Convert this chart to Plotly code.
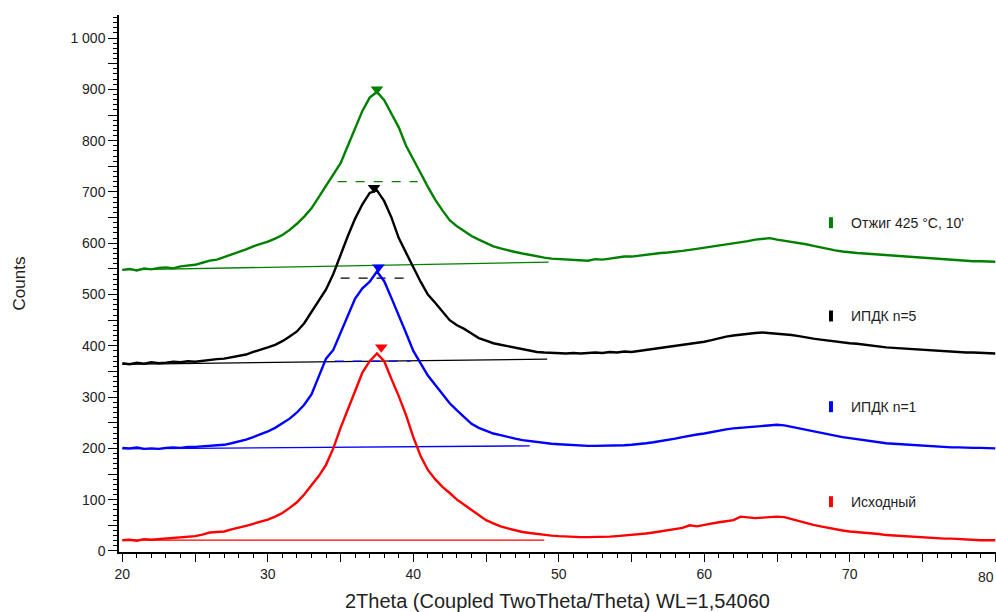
import plotly.graph_objects as go

# 2Theta grid (degrees), 0.5 deg step
two_theta = [20 + 0.5 * i for i in range(121)]

otzhig = [548, 550, 547, 551, 549, 552, 553, 551, 555, 557,
          558, 562, 566, 568, 573, 577, 582, 588, 594, 598,
          603, 609, 616, 626, 638, 652, 668, 690, 712, 733,
          756, 790, 826, 858, 884, 895, 879, 852, 826, 790,
          762, 737, 710, 685, 664, 645, 633, 624, 614, 607,
          600, 594, 590, 586, 583, 580, 577, 575, 572, 570,
          569, 568, 567, 567, 566, 569, 568, 570, 572, 574,
          574, 576, 578, 579, 581, 582, 583, 585, 587, 589,
          591, 593, 595, 597, 600, 602, 604, 607, 609, 610,
          607, 605, 603, 600, 598, 595, 592, 588, 586, 584,
          582, 581, 580, 579, 578, 577, 576, 575, 574, 572,
          571, 570, 569, 568, 568, 567, 566, 565, 565, 564, 564]

ipdk5 = [366, 364, 367, 365, 368, 366, 367, 369, 368, 370,
         369, 371, 372, 374, 375, 378, 380, 383, 388, 392,
         397, 402, 409, 418, 428, 444, 466, 486, 510, 540,
         578, 614, 648, 676, 698, 703, 682, 650, 610, 580,
         553, 525, 500, 484, 466, 450, 440, 433, 424, 415,
         410, 405, 402, 399, 396, 393, 390, 388, 387, 386,
         386, 385, 386, 385, 386, 387, 386, 388, 387, 389,
         388, 390, 392, 394, 396, 398, 400, 402, 404, 405,
         408, 411, 415, 418, 420, 422, 424, 425, 426, 425,
         424, 422, 421, 419, 416, 414, 412, 410, 408, 407,
         405, 404, 402, 400, 398, 397, 396, 395, 394, 393,
         392, 391, 390, 389, 389, 388, 387, 387, 386, 386, 385]

ipdk1 = [201, 200, 202, 199, 200, 199, 201, 202, 201, 203,
         203, 204, 205, 206, 207, 210, 213, 217, 222, 227,
         233, 240, 249, 258, 270, 285, 305, 340, 375, 392,
         425, 460, 492, 512, 525, 545, 526, 493, 460, 425,
         390, 365, 342, 324, 305, 288, 274, 260, 248, 240,
         234, 229, 226, 222, 219, 216, 214, 212, 210, 209,
         208, 207, 206, 206, 205, 205, 205, 206, 206, 206,
         207, 208, 210, 212, 214, 216, 219, 222, 225, 227,
         229, 232, 235, 237, 239, 240, 241, 242, 243, 244,
         246, 245, 242, 239, 236, 233, 230, 227, 224, 222,
         220, 218, 215, 213, 211, 210, 209, 208, 207, 206,
         205, 204, 203, 203, 202, 202, 201, 201, 201, 200, 200]

iskhodny = [21, 22, 20, 23, 22, 23, 24, 25, 26, 27,
            29, 32, 36, 37, 38, 42, 45, 49, 53, 57,
            61, 67, 74, 84, 95, 110, 128, 146, 168, 200,
            240, 278, 312, 348, 370, 385, 370, 335, 302, 265,
            222, 185, 158, 140, 125, 113, 100, 90, 80, 69,
            60, 54, 48, 44, 40, 37, 35, 33, 31, 30,
            29, 28, 28, 27, 27, 27, 28, 28, 29, 30,
            31, 33, 34, 36, 38, 40, 42, 45, 50, 48,
            51, 54, 56, 58, 60, 67, 65, 64, 65, 66,
            67, 66, 62, 58, 55, 51, 48, 45, 42, 40,
            38, 37, 36, 35, 33, 31, 30, 29, 28, 27,
            26, 26, 25, 24, 24, 23, 22, 22, 21, 21, 21]

series_names = ["Отжиг 425 °C, 10'", "ИПДК n=5", "ИПДК n=1", "Исходный"]
series_colors = ["#008000", "#000000", "#0000ff", "#ff0000"]
series_values = [otzhig, ipdk5, ipdk1, iskhodny]

# peak positions (2Theta, counts)
peak_x = [37.5, 37.3, 37.6, 37.8]
peak_y = [900, 708, 553, 397]

# background lines: start/end 2Theta and counts
bg_x = [[20, 49.3], [20, 49.2], [20, 48.0], [20, 49.0]]
bg_y = [[548, 563], [364, 374], [199, 205], [21, 21]]

# FWHM level lines (green, black, blue)
fwhm_x = [[34.8, 40.3], [35.0, 39.8], [34.6, 39.8]]
fwhm_y = [[720, 720], [532, 532], [370, 370]]

# legend label vertical positions (paper)
label_y = [0.6132, 0.4395, 0.2706, 0.0937]

fig = go.Figure()
for i, (name, col, vals) in enumerate(zip(series_names, series_colors, series_values)):
    fig.add_trace(go.Scatter(x=two_theta, y=vals, mode="lines", name=name,
                             line=dict(color=col, width=2.4)))
    fig.add_trace(go.Scatter(x=bg_x[i], y=bg_y[i], mode="lines",
                             line=dict(color=col, width=1.3)))
    if i < len(fwhm_x):
        fig.add_trace(go.Scatter(x=fwhm_x[i], y=fwhm_y[i], mode="lines",
                                 line=dict(color=col, width=1.3, dash="dash")))
    fig.add_trace(go.Scatter(x=[peak_x[i]], y=[peak_y[i]], mode="markers",
                             marker=dict(symbol="triangle-down", size=11, color=col)))

x_tickvals = list(range(20, 81, 5))
x_ticktext = [str(v) if v % 10 == 0 and v != 80 else "" for v in x_tickvals]
y_tickvals = list(range(0, 1001, 50))
y_ticktext = []
for v in y_tickvals:
    if v % 100:
        y_ticktext.append("")
    elif v >= 1000:
        y_ticktext.append("1 000")
    else:
        y_ticktext.append(str(v))

font_family = "Liberation Sans, Arial, sans-serif"
tick_font = dict(family=font_family, size=14, color="#222222")

fig.update_layout(
    width=996, height=612,
    margin=dict(l=119, r=0, t=15, b=60),
    plot_bgcolor="white", paper_bgcolor="white",
    showlegend=False,
    font=dict(family=font_family),
    xaxis=dict(range=[19.77, 80.05], showgrid=False, zeroline=False,
               showline=True, linecolor="black", linewidth=1.5,
               ticks="outside", ticklen=8, tickwidth=1, tickcolor="black",
               tickvals=x_tickvals, ticktext=x_ticktext, tickfont=tick_font,
               minor=dict(dtick=1, tick0=20, ticks="outside", ticklen=4,
                          tickcolor="black", tickwidth=1, showgrid=False)),
    yaxis=dict(range=[-2, 1045], showgrid=False, zeroline=False,
               showline=True, linecolor="black", linewidth=1.5,
               ticks="outside", ticklen=9, tickwidth=1, tickcolor="black",
               tickvals=y_tickvals, ticktext=y_ticktext, tickfont=tick_font,
               minor=dict(dtick=10, tick0=0, ticks="outside", ticklen=4,
                          tickcolor="black", tickwidth=1, showgrid=False)),
)

annotations = [
    dict(text="Counts", x=-0.1129, y=0.5, xref="paper", yref="paper",
         textangle=-90, showarrow=False, xanchor="center", yanchor="middle",
         font=dict(family=font_family, size=17, color="#222222")),
    dict(text="2Theta (Coupled TwoTheta/Theta) WL=1,54060", x=0.5, y=-0.0912,
         xref="paper", yref="paper", showarrow=False, xanchor="center",
         yanchor="middle", font=dict(family=font_family, size=20, color="#222222")),
    dict(text="80", x=1.0, y=-0.0466, xref="paper", yref="paper", showarrow=False,
         xanchor="right", yanchor="middle", font=tick_font),
]
shapes = []
for name, col, ly in zip(series_names, series_colors, label_y):
    annotations.append(dict(text=name, x=0.8324, y=ly, xref="paper", yref="paper",
                            showarrow=False, xanchor="left", yanchor="middle",
                            font=dict(family=font_family, size=14, color="#222222")))
    shapes.append(dict(type="rect", xref="paper", yref="paper",
                       x0=0.8096, x1=0.8141, y0=ly - 0.0102, y1=ly + 0.0102,
                       fillcolor=col, line=dict(width=0)))
fig.update_layout(annotations=annotations, shapes=shapes)

fig.write_html("out.html", config={"displayModeBar": False},
               post_script="document.body.style.margin='0';document.body.style.overflow='hidden';")
